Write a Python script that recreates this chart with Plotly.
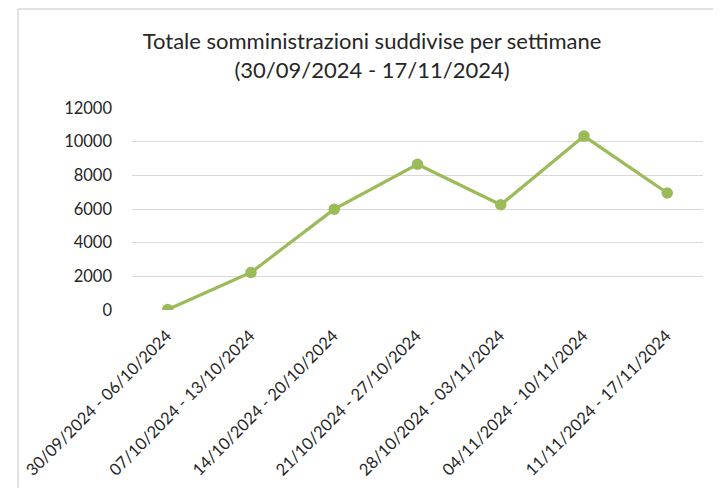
import plotly.graph_objects as go

categories = [
    "30/09/2024 - 06/10/2024",
    "07/10/2024 - 13/10/2024",
    "14/10/2024 - 20/10/2024",
    "21/10/2024 - 27/10/2024",
    "28/10/2024 - 03/11/2024",
    "04/11/2024 - 10/11/2024",
    "11/11/2024 - 17/11/2024",
]
values = [25, 2230, 5990, 8660, 6250, 10330, 6950]
y_ticks = [0, 2000, 4000, 6000, 8000, 10000, 12000]

W, H = 713, 480
L, R, T, B = 124, 18, 100, 178
pw = W - L - R
ph = H - T - B

def px_x(p):
    return (p - L) / pw

def px_y(p):
    return (H - B - p) / ph

green = "#9BBB59"
txt = "#262626"
font = "Lato"

fig = go.Figure()
fig.add_trace(go.Scatter(
    x=categories, y=values, mode="lines+markers",
    line=dict(color=green, width=3.2),
    marker=dict(color=green, size=11.5),
    hoverinfo="x+y",
))

fig.update_layout(
    width=W, height=H,
    margin=dict(l=L, r=R, t=T, b=B, autoexpand=False),
    paper_bgcolor="white", plot_bgcolor="white",
    showlegend=False,
    title=dict(
        text="Totale somministrazioni suddivise per settimane<br>(30/09/2024 - 17/11/2024)",
        x=364 / W, xref="container", xanchor="center",
        y=1 - 41 / H, yref="container", yanchor="middle",
        font=dict(family=font, size=22, color=txt),
    ),
    font=dict(family=font, color=txt),
    xaxis=dict(
        type="category", tickangle=-45, showgrid=False, showline=False,
        tickfont=dict(family=font, size=16.5, color=txt),
        ticklabelshift=-1, ticklabelstandoff=12,
        automargin=False, fixedrange=True,
    ),
    yaxis=dict(
        range=[0, 12000], tickvals=y_ticks, ticktext=[str(v) for v in y_ticks],
        showgrid=True, gridcolor="#d9d9d9", gridwidth=1,
        zeroline=False, showline=False,
        tickfont=dict(family=font, size=16.5, color=txt),
        ticklabelstandoff=19,
        automargin=False, fixedrange=True,
    ),
    shapes=[
        dict(type="line", xref="paper", yref="paper",
             x0=px_x(10), x1=px_x(760), y0=px_y(1), y1=px_y(1),
             line=dict(color="#d9d9d9", width=1.5)),
        dict(type="line", xref="paper", yref="paper",
             x0=px_x(10), x1=px_x(10), y0=px_y(1), y1=px_y(500),
             line=dict(color="#d9d9d9", width=1.5)),
    ],
)

fig.write_html("out.html")
